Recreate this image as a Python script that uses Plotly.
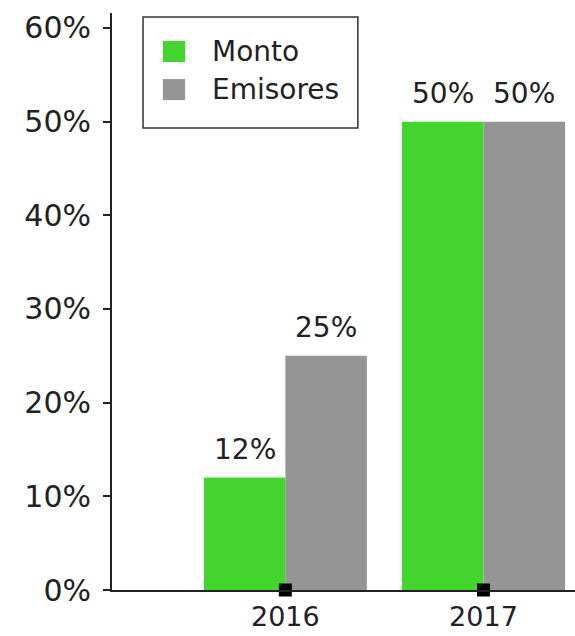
import plotly.graph_objects as go

# Data
years = [2016, 2017]
year_labels = ["2016", "2017"]
series_names = ["Monto", "Emisores"]
monto = [12, 50]
emisores = [25, 50]
y_ticks = [0, 10, 20, 30, 40, 50, 60]
y_tick_labels = [f"{v}%" for v in y_ticks]

GREEN = "#43d52d"
GRAY = "#959595"
INK = "#222222"
FONT = "DejaVu Sans"
BARGAP = 0.177

fig = go.Figure()

series = [(series_names[0], monto, GREEN), (series_names[1], emisores, GRAY)]
for name, vals, color in series:
    fig.add_trace(go.Bar(
        x=years, y=vals, name=name,
        marker=dict(color=color, line=dict(width=0)),
        showlegend=False,
    ))

# category markers sitting on the baseline
fig.add_trace(go.Scatter(
    x=years, y=[0, 0], mode="markers",
    marker=dict(symbol="square", size=13, color="black"),
    cliponaxis=False, showlegend=False, hoverinfo="skip",
))

# value labels above each bar (bar centre = year +/- a quarter of the group width)
annotations = []
half = (1 - BARGAP) / 4
for i, (name, vals, color) in enumerate(series):
    off = -half if i == 0 else half
    for yr, v in zip(years, vals):
        annotations.append(dict(
            x=yr + off, y=v, xref="x", yref="y", text=f"{v}%", showarrow=False,
            xanchor="center", yanchor="bottom", yshift=10,
            font=dict(family=FONT, size=28, color=INK),
        ))

# hand-built legend box with large swatches
shapes = [
    dict(type="rect", xref="paper", yref="paper", x0=0.067, x1=0.531, y0=0.8007, y1=0.993,
         line=dict(color="#333333", width=1.5), fillcolor="white", layer="above"),
    dict(type="rect", xref="paper", yref="paper", x0=0.110, x1=0.158, y0=0.915, y1=0.9515,
         line=dict(width=0), fillcolor=GREEN, layer="above"),
    dict(type="rect", xref="paper", yref="paper", x0=0.110, x1=0.158, y0=0.849, y1=0.8856,
         line=dict(width=0), fillcolor=GRAY, layer="above"),
]
annotations += [
    dict(xref="paper", yref="paper", x=0.2117, y=0.9333, text=series_names[0], showarrow=False,
         xanchor="left", yanchor="middle", font=dict(family=FONT, size=28, color=INK)),
    dict(xref="paper", yref="paper", x=0.2117, y=0.8674, text=series_names[1], showarrow=False,
         xanchor="left", yanchor="middle", font=dict(family=FONT, size=28, color=INK)),
]

fig.update_layout(
    width=575, height=636,
    margin=dict(l=112, r=0, t=13, b=46, pad=0),
    paper_bgcolor="white", plot_bgcolor="white",
    barmode="group", bargap=BARGAP, bargroupgap=0,
    shapes=shapes, annotations=annotations,
    font=dict(family=FONT, color=INK),
)

fig.update_xaxes(
    type="linear", range=[years[0] - 0.875, years[1] + 0.462],
    tickvals=years, ticktext=year_labels,
    showline=True, linecolor=INK, linewidth=2,
    ticks="", showgrid=False, zeroline=False,
    tickfont=dict(family=FONT, size=27, color=INK),
    ticklabelstandoff=2, automargin=False,
)
fig.update_yaxes(
    range=[0, 61.6], tickvals=y_ticks, ticktext=y_tick_labels,
    showline=True, linecolor=INK, linewidth=2,
    ticks="outside", ticklen=7, tickwidth=2, tickcolor=INK,
    showgrid=False, zeroline=False,
    tickfont=dict(family=FONT, size=30, color=INK),
    ticklabelstandoff=6, automargin=False,
)

fig.write_html("out.html")
